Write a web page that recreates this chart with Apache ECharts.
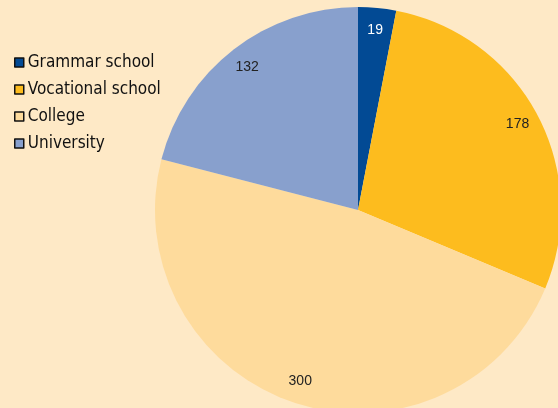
<!DOCTYPE html>
<html><head><meta charset="utf-8">
<script src="https://cdn.jsdelivr.net/npm/echarts@6/dist/echarts.min.js"></script>
<style>html,body{margin:0;padding:0;background:#FEE9C6;}#c{width:558px;height:408px;}</style>
</head><body><div id="c"></div>
<script>
const categories = ['Grammar school', 'Vocational school', 'College', 'University'];
const values = [19, 178, 300, 132];
const colors = ['#024A94', '#FDBC1E', '#FEDB9C', '#88A0CD'];
const labelColors = ['#ffffff', '#222222', '#222222', '#222222'];

const chart = echarts.init(document.getElementById('c'));
const data = categories.map((n, i) => ({name: n, value: values[i], itemStyle: {color: colors[i]}}));
const labelData = categories.map((n, i) => ({name: n, value: values[i], label: {color: labelColors[i]}}));
chart.setOption({
  backgroundColor: '#FEE9C6',
  animation: false,
  legend: {
    orient: 'vertical', left: 9, top: 49,
    itemWidth: 9, itemHeight: 9, itemGap: 10, icon: 'rect',
    textStyle: {fontFamily: 'DejaVu Sans Condensed, Liberation Sans, sans-serif', fontSize: 17, color: '#111', padding: [0,0,0,-1]},
    itemStyle: {borderColor: '#111', borderWidth: 1.5},
    data: categories
  },
  series: [{
    type: 'pie', center: [358, 210], radius: [0, 203],
    startAngle: 90, clockwise: true,
    label: {show: false}, labelLine: {show: false},
    data: data
  }, {
    type: 'pie', center: [358, 210], radius: [156, 200],
    startAngle: 90, clockwise: true, silent: true,
    legendHoverLink: false,
    itemStyle: {color: 'rgba(0,0,0,0)'},
    label: {show: true, position: 'inside', formatter: '{c}', fontFamily: 'Liberation Sans, Arial, sans-serif', fontSize: 14},
    labelLine: {show: false},
    data: labelData
  }]
});
</script></body></html>
